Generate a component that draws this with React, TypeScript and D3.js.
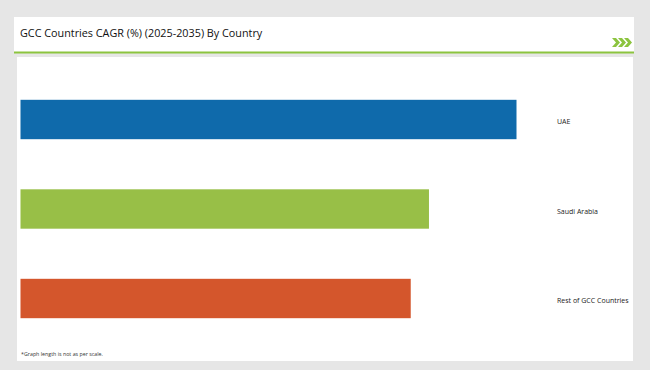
import React, { useRef, useEffect } from 'react';
import * as d3 from 'd3';

const countries = ['UAE', 'Saudi Arabia', 'Rest of GCC Countries'];
const cagr = [6.8, 5.6, 5.35];
const barColors = ['#0f6aab', '#98bf47', '#d4562c'];

const title = 'GCC Countries CAGR (%) (2025-2035) By Country';
const footnote = '*Graph length is not as per scale.';

const W = 650;
const H = 370;

function App() {
  const svgRef = useRef<SVGSVGElement>(null);

  useEffect(() => {
    const svg = d3.select(svgRef.current);
    svg.selectAll('*').remove();

    svg.append('rect').attr('width', W).attr('height', H).attr('fill', '#e6e6e6');

    // header panel
    svg.append('rect').attr('x', 14).attr('y', 17).attr('width', 620).attr('height', 35).attr('fill', '#fff');
    svg.append('rect').attr('x', 14).attr('y', 51.5).attr('width', 620).attr('height', 2).attr('fill', '#8cc43f');
    svg
      .append('text')
      .attr('x', 20)
      .attr('y', 37)
      .attr('font-family', 'Open Sans, sans-serif')
      .attr('font-size', 10.8)
      .attr('fill', '#111')
      .text(title);

    // chevrons
    const chev = svg.append('g').attr('fill', '#8cc43f');
    [0, 6, 12].forEach((dx) => {
      const x = 612 + dx;
      chev
        .append('path')
        .attr('d', `M${x},38 L${x + 4},38 L${x + 8},42.5 L${x + 4},47 L${x},47 L${x + 4},42.5 Z`);
    });

    // body panel
    svg.append('rect').attr('x', 17).attr('y', 57).attr('width', 616).attr('height', 304).attr('fill', '#fff');

    const y = d3
      .scaleBand()
      .domain(countries)
      .range([74.75, 343.25])
      .paddingInner(0.56)
      .paddingOuter(0.28);
    const x = d3.scaleLinear().domain([0, d3.max(cagr) as number]).range([20.5, 516.5]);

    svg
      .selectAll('.bar')
      .data(countries)
      .join('rect')
      .attr('class', 'bar')
      .attr('x', x(0))
      .attr('y', (d) => y(d) as number)
      .attr('width', (d, i) => x(cagr[i]) - x(0))
      .attr('height', y.bandwidth())
      .attr('fill', (d, i) => barColors[i]);

    svg
      .selectAll('.label')
      .data(countries)
      .join('text')
      .attr('class', 'label')
      .attr('x', 557)
      .attr('y', (d) => (y(d) as number) + y.bandwidth() / 2 + 4.5)
      .attr('font-family', 'Open Sans, sans-serif')
      .attr('font-size', 7)
      .attr('fill', '#222')
      .text((d) => d);

    svg
      .append('text')
      .attr('x', 21)
      .attr('y', 356)
      .attr('font-family', 'Open Sans, sans-serif')
      .attr('font-size', 5.3)
      .attr('fill', '#333')
      .text(footnote);
  }, []);

  return (
    <div style={{ position: 'absolute', left: 0, top: 0 }}>
      <svg ref={svgRef} width={W} height={H} style={{ display: 'block' }} />
    </div>
  );
}

export default App;
